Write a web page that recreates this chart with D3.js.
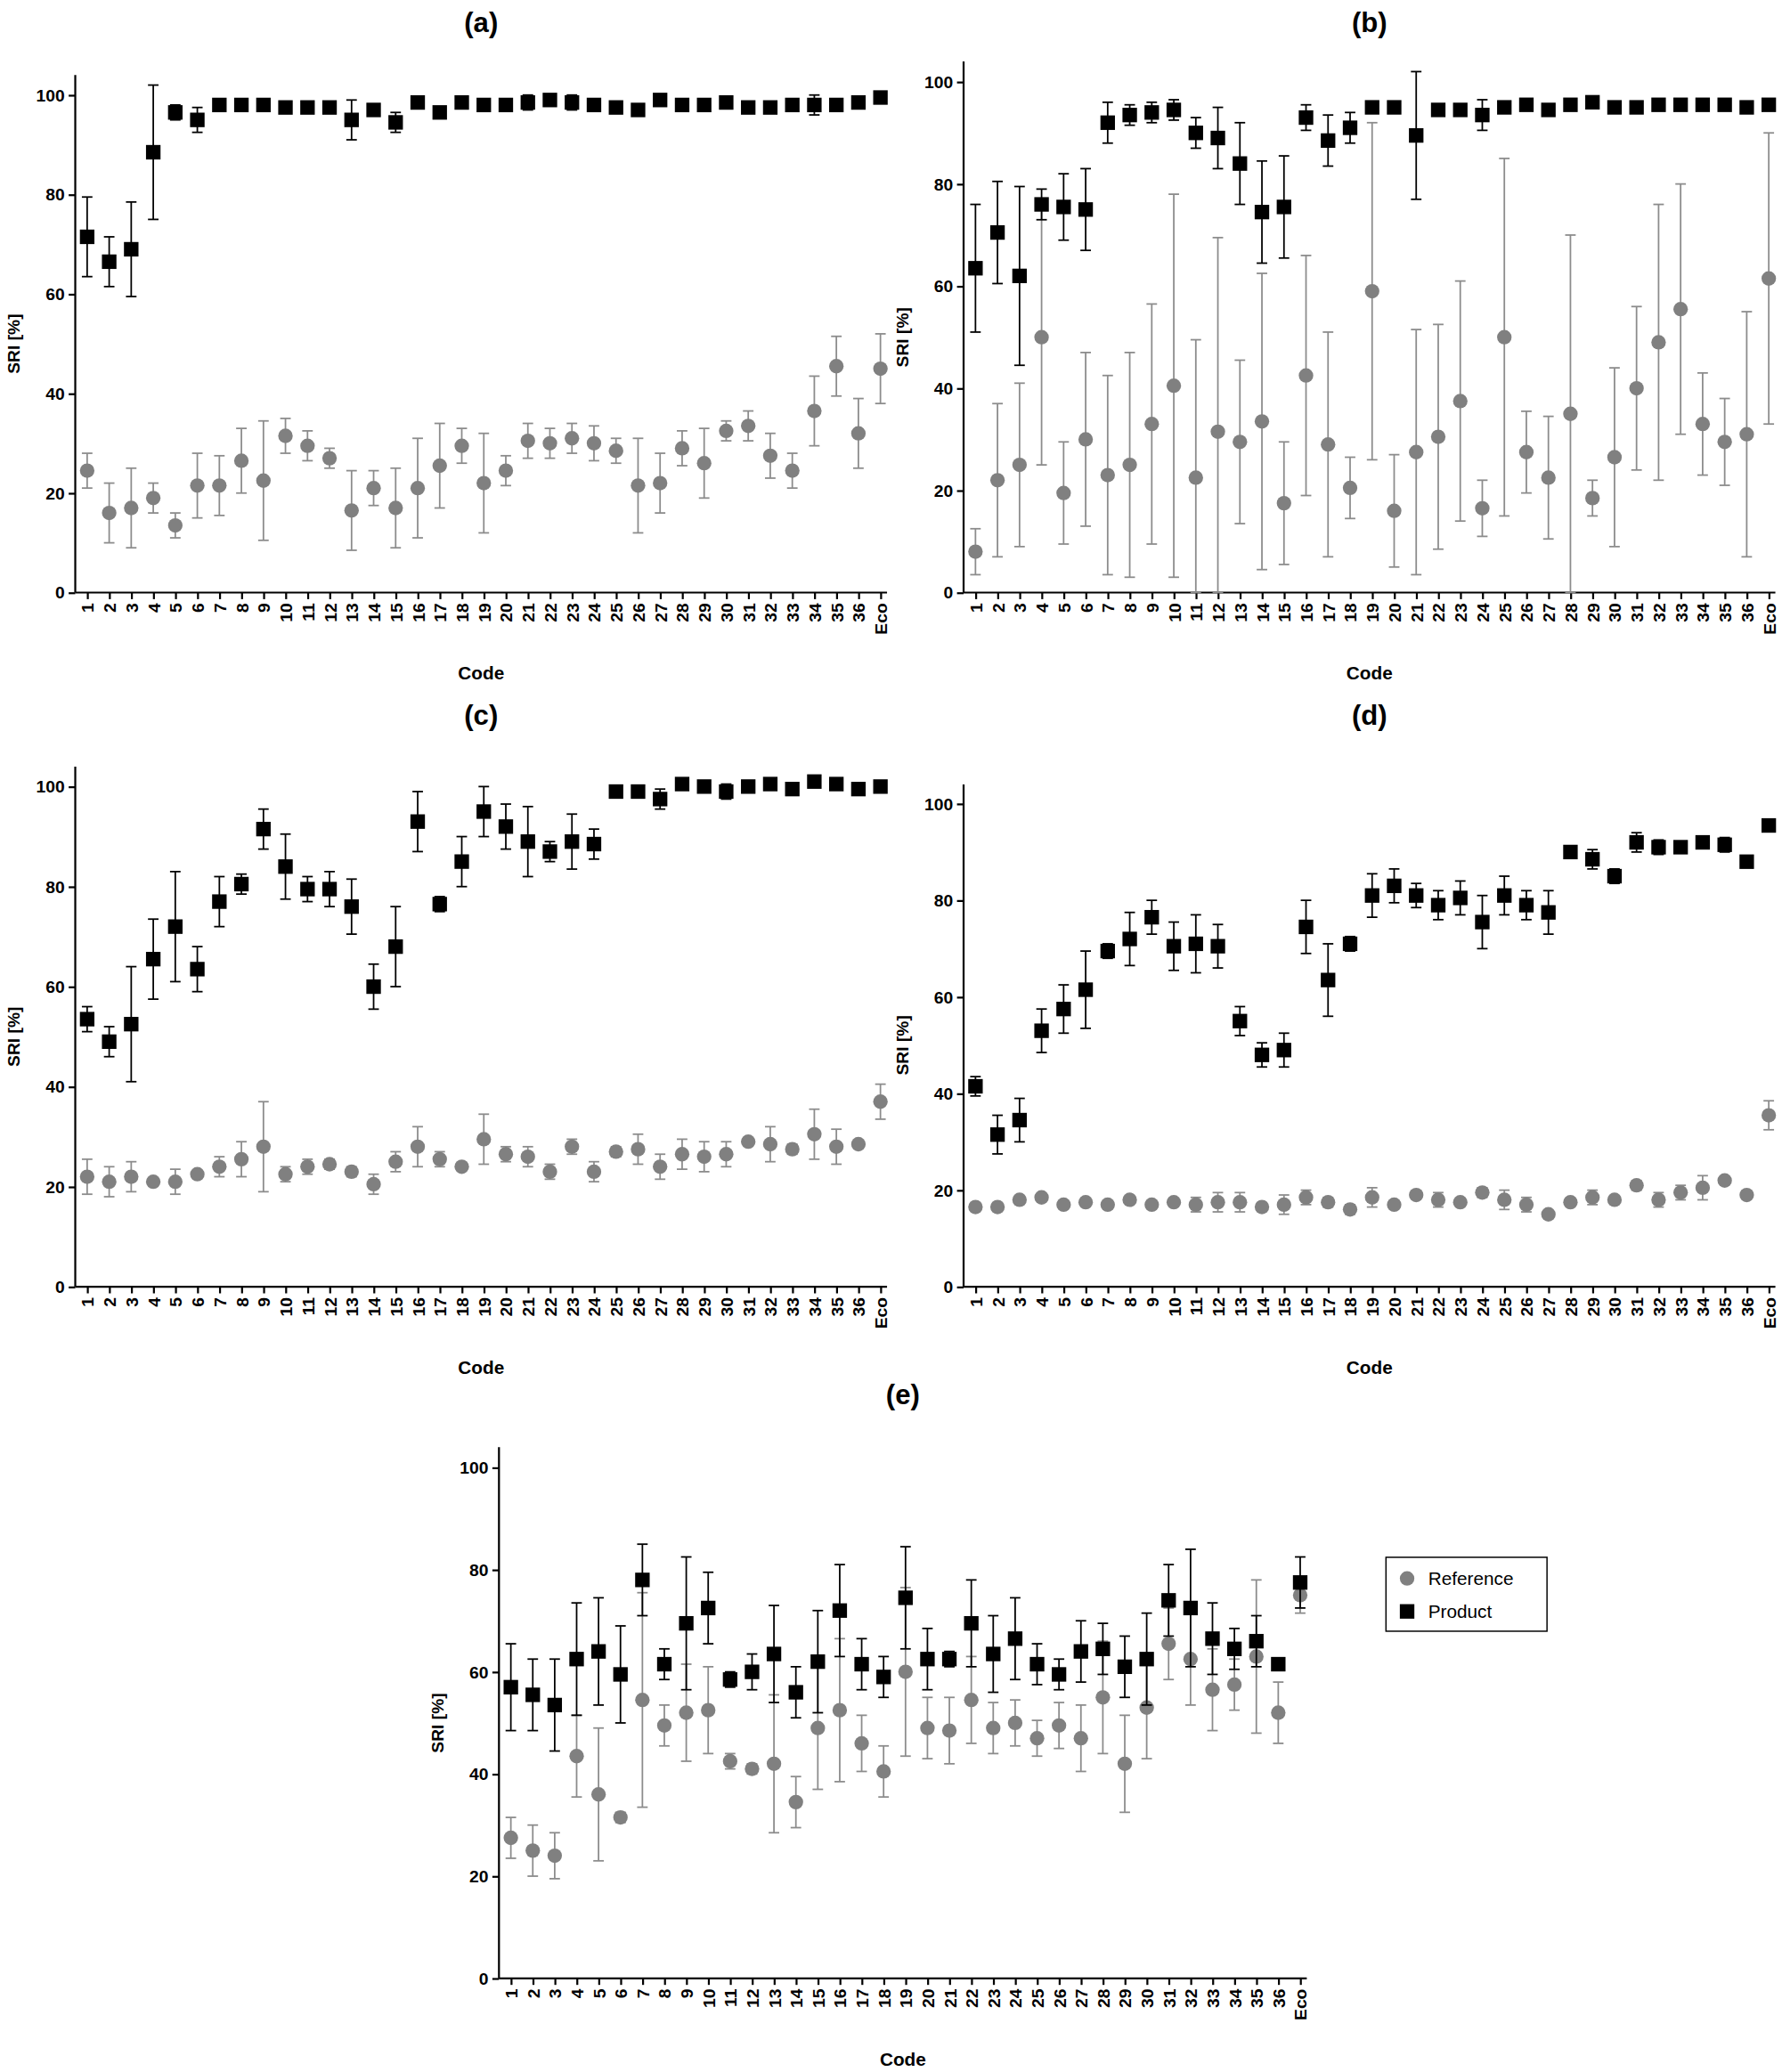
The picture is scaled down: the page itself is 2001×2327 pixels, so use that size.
<!DOCTYPE html>
<html>
<head>
<meta charset="utf-8">
<script src="https://cdn.jsdelivr.net/npm/d3@7"></script>
<style>
  body { margin: 0; background: #fff; }
  text { font-family: Arial, "Liberation Sans", sans-serif; }
</style>
</head>
<body>
<svg id="chart"></svg>
<script>
const codes = d3.range(1, 37).map(String).concat(['Eco']);

// [mean, half error bar]
const aProduct = [[71.5,8],[66.5,5],[69,9.5],[88.5,13.5],[96.5,1.5],[95,2.5],[98,1],[98,1],[98,0.5],[97.5,0.5],[97.5,0.5],[97.5,0.5],[95,4],[97,0.5],[94.5,2],[98.5,1],[96.5,0.5],[98.5,0.5],[98,0.5],[98,0.5],[98.5,1.5],[99,0.5],[98.5,1.5],[98,0.5],[97.5,0.5],[97,0.5],[99,1],[98,0.5],[98,0.5],[98.5,0.5],[97.5,0.5],[97.5,0.5],[98,0.5],[98,2],[98,0.5],[98.5,1],[99.5,1]];
const aReference = [[24.5,3.5],[16,6],[17,8],[19,3],[13.5,2.5],[21.5,6.5],[21.5,6],[26.5,6.5],[22.5,12],[31.5,3.5],[29.5,3],[27,2],[16.5,8],[21,3.5],[17,8],[21,10],[25.5,8.5],[29.5,3.5],[22,10],[24.5,3],[30.5,3.5],[30,3],[31,3],[30,3.5],[28.5,2.5],[21.5,9.5],[22,6],[29,3.5],[26,7],[32.5,2],[33.5,3],[27.5,4.5],[24.5,3.5],[36.5,7],[45.5,6],[32,7],[45,7]];

const bProduct = [[63.5,12.5],[70.5,10],[62,17.5],[76,3],[75.5,6.5],[75,8],[92,4],[93.5,2],[94,2],[94.5,2],[90,3],[89,6],[84,8],[74.5,10],[75.5,10],[93,2.5],[88.5,5],[91,3],[95,0.5],[95,0.5],[89.5,12.5],[94.5,0.5],[94.5,0.5],[93.5,3],[95,0.5],[95.5,0.5],[94.5,0.5],[95.5,0.5],[96,0.5],[95,0.5],[95,0.5],[95.5,0.5],[95.5,0.5],[95.5,0.5],[95.5,0.5],[95,0.5],[95.5,0.5]];
const bReference = [[8,4.5],[22,15],[25,16],[50,25],[19.5,10],[30,17],[23,19.5],[25,22],[33,23.5],[40.5,37.5],[22.5,27],[31.5,38],[29.5,16],[33.5,29],[17.5,12],[42.5,23.5],[29,22],[20.5,6],[59,33],[16,11],[27.5,24],[30.5,22],[37.5,23.5],[16.5,5.5],[50,35],[27.5,8],[22.5,12],[35,35],[18.5,3.5],[26.5,17.5],[40,16],[49,27],[55.5,24.5],[33,10],[29.5,8.5],[31,24],[61.5,28.5]];

const cProduct = [[53.5,2.5],[49,3],[52.5,11.5],[65.5,8],[72,11],[63.5,4.5],[77,5],[80.5,2],[91.5,4],[84,6.5],[79.5,2.5],[79.5,3.5],[76,5.5],[60,4.5],[68,8],[93,6],[76.5,1.5],[85,5],[95,5],[92,4.5],[89,7],[87,2],[89,5.5],[88.5,3],[99,0.5],[99,0.5],[97.5,2],[100.5,0.5],[100,0.5],[99,1.5],[100,0.5],[100.5,0.5],[99.5,0.5],[101,0.5],[100.5,0.5],[99.5,0.5],[100,0.5]];
const cReference = [[22,3.5],[21,3],[22,3],[21,0.5],[21,2.5],[22.5,0.5],[24,2],[25.5,3.5],[28,9],[22.5,1.5],[24,1.5],[24.5,1],[23,1],[20.5,2],[25,2],[28,4],[25.5,1.5],[24,0.5],[29.5,5],[26.5,1.5],[26,2],[23,1.5],[28,1.5],[23,2],[27,1],[27.5,3],[24,2.5],[26.5,3],[26,3],[26.5,2.5],[29,0.5],[28.5,3.5],[27.5,1],[30.5,5],[28,3.5],[28.5,0.5],[37,3.5]];

const dProduct = [[41.5,2],[31.5,4],[34.5,4.5],[53,4.5],[57.5,5],[61.5,8],[69.5,1.5],[72,5.5],[76.5,3.5],[70.5,5],[71,6],[70.5,4.5],[55,3],[48,2.5],[49,3.5],[74.5,5.5],[63.5,7.5],[71,1.5],[81,4.5],[83,3.5],[81,2.5],[79,3],[80.5,3.5],[75.5,5.5],[81,4],[79,3],[77.5,4.5],[90,1],[88.5,2],[85,1.5],[92,2],[91,1.5],[91,0.5],[92,0.5],[91.5,1.5],[88,0.5],[95.5,0.5]];
const dReference = [[16.5,0.5],[16.5,0.5],[18,0.5],[18.5,0.5],[17,0.5],[17.5,0.5],[17,0.5],[18,0.5],[17,0.5],[17.5,0.5],[17,1.5],[17.5,2],[17.5,2],[16.5,0.5],[17,2],[18.5,1.5],[17.5,1],[16,1],[18.5,2],[17,0.5],[19,0.5],[18,1.5],[17.5,0.5],[19.5,1],[18,2],[17,1.5],[15,0.5],[17.5,0.5],[18.5,1.5],[18,0.5],[21,1],[18,1.5],[19.5,1.5],[20.5,2.5],[22,0.5],[19,0.5],[35.5,3]];

const eProduct = [[57,8.5],[55.5,7],[53.5,9],[62.5,11],[64,10.5],[59.5,9.5],[78,7],[61.5,3],[69.5,13],[72.5,7],[58.5,1.5],[60,3.5],[63.5,9.5],[56,5],[62,10],[72,9],[61.5,5],[59,4],[74.5,10],[62.5,6],[62.5,1.5],[69.5,8.5],[63.5,7.5],[66.5,8],[61.5,4],[59.5,3],[64,6],[64.5,5],[61,6],[62.5,9],[74,7],[72.5,11.5],[66.5,7],[64.5,4],[66,5],[61.5,0.5],[77.5,5]];
const eReference = [[27.5,4],[25,5],[24,4.5],[43.5,8],[36,13],[31.5,1],[54.5,21],[49.5,4],[52,9.5],[52.5,8.5],[42.5,1.5],[41,1],[42,13.5],[34.5,5],[49,12],[52.5,14],[46,5.5],[40.5,5],[60,16.5],[49,6],[48.5,6.5],[54.5,8.5],[49,5],[50,4.5],[47,3.5],[49.5,4.5],[47,6.5],[55,11],[42,9.5],[53,10],[65.5,7],[62.5,9],[56.5,8],[57.5,5],[63,15],[52,6],[75,3.5]];

const yTicks = [0, 20, 40, 60, 80, 100];

const svg = d3.select('#chart')
  .attr('width', 2001).attr('height', 2327)
  .attr('viewBox', '0 0 1350 1570');

const panels = [
  { title: '(a)', titleY: 24, left: 57, right: 672, top: 72, bottom: 449, product: aProduct, reference: aReference },
  { title: '(b)', titleY: 24, left: 730, right: 1345, top: 62, bottom: 449, product: bProduct, reference: bReference },
  { title: '(c)', titleY: 549, left: 57, right: 672, top: 596, bottom: 975, product: cProduct, reference: cReference },
  { title: '(d)', titleY: 549, left: 730, right: 1345, top: 609, bottom: 975, product: dProduct, reference: dReference },
  { title: '(e)', titleY: 1064, left: 378, right: 990, top: 1112, bottom: 1499, product: eProduct, reference: eReference },
];

function drawPanel(p) {
  const g = svg.append('g');
  const y = d3.scaleLinear().domain([0, 100]).range([p.bottom, p.top]);
  const yTop = y(104);
  const x = d3.scalePoint().domain(codes).range([p.left + 9, p.right - 5]);

  // axes
  const yAxis = g.append('g').attr('transform', `translate(${p.left},0)`)
    .call(d3.axisLeft(y).tickValues(yTicks).tickSize(5).tickSizeOuter(0));
  yAxis.select('.domain').attr('d', `M0,${yTop}V${p.bottom}`);
  const xAxis = g.append('g').attr('transform', `translate(0,${p.bottom})`)
    .call(d3.axisBottom(x).tickSize(5).tickSizeOuter(0));
  xAxis.select('.domain').attr('d', `M${p.left},0H${p.right}`);
  g.selectAll('.domain, .tick line').attr('stroke', '#000').attr('stroke-width', 1.5);
  yAxis.selectAll('text').attr('font-size', 13).attr('font-weight', 'bold');
  xAxis.selectAll('text')
    .attr('font-size', 13).attr('font-weight', 'bold')
    .attr('transform', 'rotate(-90)').attr('text-anchor', 'end')
    .attr('x', -8).attr('y', 0).attr('dy', '0.35em');

  g.append('text').attr('x', (p.left + p.right) / 2).attr('y', p.bottom + 66)
    .attr('text-anchor', 'middle').attr('font-size', 14).attr('font-weight', 'bold').text('Code');
  g.append('text').attr('transform', `translate(${p.left - 42},${(p.top + p.bottom) / 2}) rotate(-90)`)
    .attr('text-anchor', 'middle').attr('font-size', 13).attr('font-weight', 'bold').text('SRI [%]');
  g.append('text').attr('x', (p.left + p.right) / 2).attr('y', p.titleY)
    .attr('text-anchor', 'middle').attr('font-size', 21).attr('font-weight', 'bold').text(p.title);

  // error bars
  function bars(data, color) {
    const eb = g.append('g').attr('stroke', color).attr('stroke-width', 1.2);
    data.forEach((d, i) => {
      const cx = x(codes[i]);
      const lo = Math.max(0, d[0] - d[1]), hi = d[0] + d[1];
      eb.append('line').attr('x1', cx).attr('x2', cx).attr('y1', y(lo)).attr('y2', y(hi));
      [lo, hi].forEach(v => eb.append('line').attr('x1', cx - 4).attr('x2', cx + 4).attr('y1', y(v)).attr('y2', y(v)));
    });
  }
  bars(p.reference, '#8c8c8c');
  g.selectAll('.ref').data(p.reference).enter().append('circle')
    .attr('cx', (d, i) => x(codes[i])).attr('cy', d => y(d[0])).attr('r', 5.5).attr('fill', '#808080');
  bars(p.product, '#000');
  g.selectAll('.prod').data(p.product).enter().append('rect')
    .attr('x', (d, i) => x(codes[i]) - 5.5).attr('y', d => y(d[0]) - 5.5)
    .attr('width', 11).attr('height', 11).attr('fill', '#000');
}

panels.forEach(drawPanel);

// legend
const lg = svg.append('g').attr('transform', 'translate(1050,1180)');
lg.append('rect').attr('width', 122).attr('height', 56).attr('fill', 'none').attr('stroke', '#000').attr('stroke-width', 1);
lg.append('circle').attr('cx', 16).attr('cy', 16).attr('r', 5.5).attr('fill', '#808080');
lg.append('text').attr('x', 32).attr('y', 21).attr('font-size', 14).text('Reference');
lg.append('rect').attr('x', 10.5).attr('y', 35.5).attr('width', 11).attr('height', 11).attr('fill', '#000');
lg.append('text').attr('x', 32).attr('y', 46).attr('font-size', 14).text('Product');
</script>
</body>
</html>
